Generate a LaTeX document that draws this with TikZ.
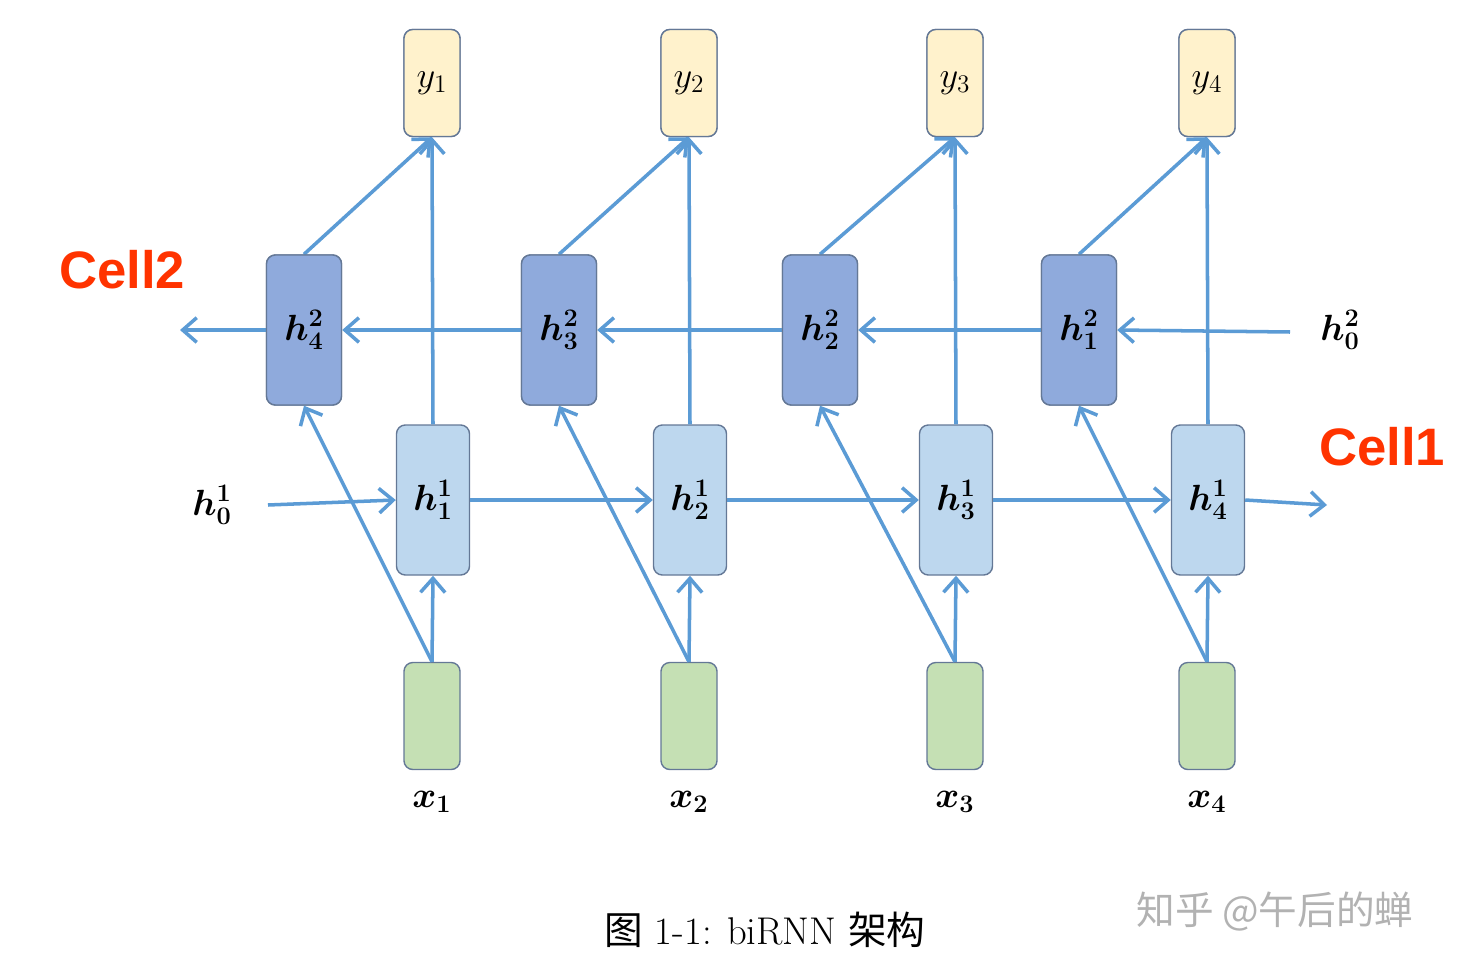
\documentclass[tikz,border=0pt]{standalone}
\usepackage{amsmath,amssymb,bm}
\usepackage{fontspec}
\newfontfamily\cellfont{Liberation Sans}
\newfontfamily\cjk{Noto Sans CJK SC}
\usetikzlibrary{arrows.meta}
\definecolor{lnb}{RGB}{91,155,213}
\definecolor{hone}{RGB}{189,215,238}
\definecolor{htwo}{RGB}{143,170,220}
\definecolor{yf}{RGB}{255,242,204}
\definecolor{xf}{RGB}{197,224,180}
\definecolor{bd}{RGB}{100,120,150}
\definecolor{cellred}{RGB}{255,51,0}
\begin{document}
\begin{tikzpicture}[x=0.02cm,y=-0.02cm,
  box/.style={draw=bd,line width=0.8pt,rounded corners=5pt,inner sep=0pt,font=\fontsize{22}{24}\selectfont},
  ybox/.style={box,fill=yf,minimum width=56*0.02cm,minimum height=107*0.02cm},
  xbox/.style={box,fill=xf,minimum width=56*0.02cm,minimum height=107*0.02cm},
  hone/.style={box,fill=hone,minimum width=73*0.02cm,minimum height=150*0.02cm},
  htwo/.style={box,fill=htwo,minimum width=75*0.02cm,minimum height=150*0.02cm},
  lbl/.style={font=\fontsize{22}{24}\selectfont},
  cell/.style={text=cellred,font=\cellfont\bfseries\fontsize{30}{32}\selectfont},
  arr/.style={draw=lnb,line width=2pt,-{Straight Barb[length=8pt,width=14pt,line width=2pt]}}]
\useasboundingbox (0,0) rectangle (1472,974);
\foreach \i/\x/\hx/\hy in {1/432/433/304,2/689/690/559,3/955/956/820,4/1207/1208/1079}{
  \node[ybox] (y\i) at (\x,83) {$y_{1\ifnum\i>1\fi}$};
  \node[xbox] (x\i) at (\x,716) {};
  \node[lbl] (xl\i) at (\x,802) {$\bm{x_{\i}}$};
}
\node[ybox] at (432,83) {$y_1$};
\node[ybox] at (689,83) {$y_2$};
\node[ybox] at (955,83) {$y_3$};
\node[ybox] at (1207,83) {$y_4$};
\node[hone] (a1) at (433,500) {$\bm{h^1_1}$};
\node[hone] (a2) at (690,500) {$\bm{h^1_2}$};
\node[hone] (a3) at (956,500) {$\bm{h^1_3}$};
\node[hone] (a4) at (1208,500) {$\bm{h^1_4}$};
\node[htwo] (b4) at (304,330) {$\bm{h^2_4}$};
\node[htwo] (b3) at (559,330) {$\bm{h^2_3}$};
\node[htwo] (b2) at (820,330) {$\bm{h^2_2}$};
\node[htwo] (b1) at (1079,330) {$\bm{h^2_1}$};
\node[lbl] (h01) at (212,505) {$\bm{h^1_0}$};
\node[lbl] (h02) at (1340,330) {$\bm{h^2_0}$};
\coordinate (s1) at (268,505);
\coordinate (s2) at (1290,332);
\coordinate (e1) at (1327,505);
\coordinate (e2) at (180,330);
\node[cell] (c2) at (122,270) {Cell2};
\node[cell] (c1) at (1382,447) {Cell1};
% arrows behind
\begin{scope}[on background layer/.style={}]
\foreach \i/\b in {1/b4,2/b3,3/b2,4/b1}{
  \draw[arr] (x\i.north) -- (a\i.south);
  \draw[arr] (x\i.north) -- (\b.south);
  \draw[arr] (a\i.north) -- (y\i.south);
  \draw[arr] (\b.north) -- (y\i.south);
}
\end{scope}
\draw[arr] (s1) -- (a1.west);
\draw[arr] (a1.east) -- (a2.west);
\draw[arr] (a2.east) -- (a3.west);
\draw[arr] (a3.east) -- (a4.west);
\draw[arr] (a4.east) -- (e1);
\draw[arr] (s2) -- (b1.east);
\draw[arr] (b1.west) -- (b2.east);
\draw[arr] (b2.west) -- (b3.east);
\draw[arr] (b3.west) -- (b4.east);
\draw[arr] (b4.west) -- (e2);
% redraw boxes on top
\node[htwo] at (304,330) {$\bm{h^2_4}$};
\node[htwo] at (559,330) {$\bm{h^2_3}$};
\node[htwo] at (820,330) {$\bm{h^2_2}$};
\node[htwo] at (1079,330) {$\bm{h^2_1}$};
\node[lbl] (cap) at (765,930) {{\cjk 图} 1-1: biRNN {\cjk 架构}};
\node[text=gray!60,font=\cjk\fontsize{22}{24}\selectfont] (wm) at (1275,912) {知乎 @午后的蝉};
\end{tikzpicture}
\end{document}
